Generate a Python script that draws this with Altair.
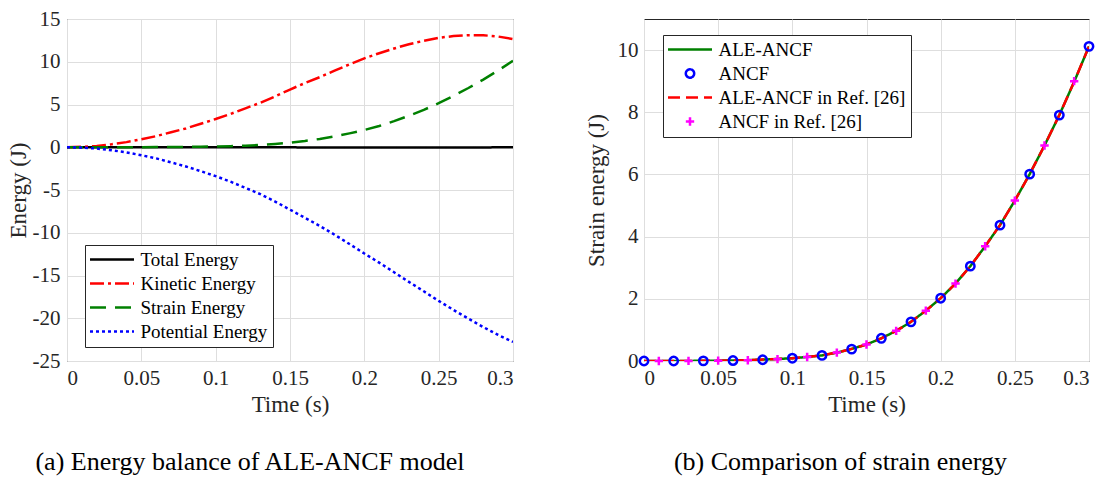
import altair as alt
import pandas as pd

# ---------------- data ----------------
time = [0.00, 0.01, 0.02, 0.03, 0.04, 0.05, 0.06, 0.07, 0.08, 0.09,
        0.10, 0.11, 0.12, 0.13, 0.14, 0.15, 0.16, 0.17, 0.18, 0.19,
        0.20, 0.21, 0.22, 0.23, 0.24, 0.25, 0.26, 0.27, 0.28, 0.29, 0.30]

total_energy = [0.0, 0.0, 0.0, 0.0, 0.0, 0.0, 0.0, 0.0, 0.0, 0.0,
                0.0, 0.0, -0.01, -0.01, -0.01, -0.01, -0.02, -0.02, -0.02, -0.02,
                -0.02, -0.03, -0.03, -0.03, -0.04, -0.04, -0.04, -0.03, -0.02, -0.01, 0.0]

kinetic_energy = [0.0, 0.05, 0.15, 0.35, 0.6, 0.93, 1.3, 1.75, 2.2, 2.75,
                  3.3, 3.9, 4.55, 5.2, 5.95, 6.75, 7.5, 8.2, 8.95, 9.7,
                  10.4, 11.0, 11.55, 12.05, 12.45, 12.8, 13.0, 13.1, 13.1, 12.95, 12.65]

strain_energy = [0.0, 0.0, 0.001, 0.003, 0.006, 0.011, 0.018, 0.028, 0.045, 0.065,
                 0.09, 0.13, 0.18, 0.27, 0.39, 0.53, 0.73, 0.97, 1.26, 1.62,
                 2.02, 2.49, 3.05, 3.69, 4.37, 5.16, 6.01, 6.93, 7.91, 8.98, 10.12]

potential_energy = [0.0, -0.05, -0.15, -0.35, -0.6, -0.93, -1.3, -1.77, -2.25, -2.8,
                    -3.38, -4.03, -4.75, -5.48, -6.35, -7.3, -8.25, -9.2, -10.23, -11.32,
                    -12.43, -13.5, -14.62, -15.75, -16.85, -17.97, -19.03, -20.05, -21.03, -21.95, -22.77]

ref_ale_time = time
ref_ale_strain = [0.0, 0.0, 0.001, 0.003, 0.006, 0.011, 0.018, 0.028, 0.045, 0.065,
                  0.09, 0.13, 0.18, 0.27, 0.39, 0.53, 0.73, 0.97, 1.26, 1.62,
                  2.02, 2.49, 3.05, 3.69, 4.37, 5.16, 6.01, 6.93, 7.91, 8.98, 10.12]

ancf_time = [0.00, 0.02, 0.04, 0.06, 0.08, 0.10, 0.12, 0.14, 0.16, 0.18,
             0.20, 0.22, 0.24, 0.26, 0.28, 0.30]
ancf_strain = [0.0, 0.0, 0.005, 0.015, 0.04, 0.09, 0.18, 0.38, 0.73, 1.26,
               2.02, 3.05, 4.37, 6.01, 7.91, 10.12]

ref_ancf_time = [0.01, 0.03, 0.05, 0.07, 0.09, 0.11, 0.13, 0.15, 0.17, 0.19,
                 0.21, 0.23, 0.25, 0.27, 0.29]
ref_ancf_strain = [0.0, 0.003, 0.01, 0.025, 0.06, 0.13, 0.27, 0.53, 0.97, 1.62,
                   2.49, 3.69, 5.16, 6.93, 9.0]

left_series = ["Total Energy", "Kinetic Energy", "Strain Energy", "Potential Energy"]
right_series = ["ALE-ANCF", "ANCF", "ALE-ANCF in Ref. [26]", "ANCF in Ref. [26]"]
time_ticks = [0, 0.05, 0.1, 0.15, 0.2, 0.25, 0.3]
energy_ticks = [15, 10, 5, 0, -5, -10, -15, -20, -25]
strain_ticks = [0, 2, 4, 6, 8, 10]

# ---------------- tables ----------------
rows = []
for name, vals in zip(left_series, [total_energy, kinetic_energy, strain_energy, potential_energy]):
    for t, v in zip(time, vals):
        rows.append({"series": name, "t": t, "E": v})
df_left = pd.DataFrame(rows)

rows = []
for name, tt, vals in [("ALE-ANCF", time, strain_energy),
                       ("ALE-ANCF in Ref. [26]", ref_ale_time, ref_ale_strain)]:
    for t, v in zip(tt, vals):
        rows.append({"method": name, "t": t, "S": v})
df_right_lines = pd.DataFrame(rows)

rows = []
for name, tt, vals in [("ANCF", ancf_time, ancf_strain),
                       ("ANCF in Ref. [26]", ref_ancf_time, ref_ancf_strain)]:
    for t, v in zip(tt, vals):
        rows.append({"method": name, "t": t, "S": v})
df_right_points = pd.DataFrame(rows)

FONT = "Liberation Serif"
LINE_SYM = "M-4.4,0L4.4,0"
PLUS_SYM = "M-1,0L1,0M0,-1L0,1"
neg_expr = "datum.value < 0 ? '-' + format(-datum.value, '~g') : format(datum.value, '~g')"

def legend(x, y):
    return alt.Legend(title=None, orient="none", legendX=x, legendY=y,
                      symbolType=LINE_SYM, symbolSize=100, symbolStrokeWidth=2.5,
                      symbolOffset=12.5, labelOffset=19,
                      labelFont=FONT, labelFontSize=19, labelColor="black",
                      fillColor="white", strokeColor="#262626", padding=5,
                      rowPadding=4, labelLimit=0, cornerRadius=0)

x_axis = alt.Axis(title="Time (s)", values=time_ticks, format="~g",
                  labelPadding=6, titlePadding=5)

CAP = dict(orient="bottom", font=FONT, fontSize=26, fontWeight="normal", color="black", offset=33)

# ---------------- left chart ----------------
left = alt.Chart(df_left).mark_line(strokeWidth=2.5, clip=True).encode(
    x=alt.X("t:Q", scale=alt.Scale(domain=[0, 0.3], nice=False, zero=False), axis=x_axis),
    y=alt.Y("E:Q", scale=alt.Scale(domain=[-25, 15], nice=False),
            axis=alt.Axis(title="Energy (J)", values=energy_ticks, labelExpr=neg_expr,
                          labelPadding=7, titlePadding=2)),
    color=alt.Color("series:N", scale=alt.Scale(domain=left_series,
                    range=["#000000", "#ff0000", "#008000", "#0000ff"]), legend=legend(18, 226)),
    strokeDash=alt.StrokeDash("series:N", scale=alt.Scale(domain=left_series,
                    range=[[1, 0], [14, 4, 3, 4], [16, 9], [3, 3]]), legend=legend(18, 226)),
).properties(
    width=446, height=342,
    title=alt.TitleParams("(a) Energy balance of ALE-ANCF model", dx=-40, **CAP)
)

# ---------------- right chart ----------------
rcolor = alt.Color("method:N", scale=alt.Scale(domain=right_series,
                   range=["#008000", "#0000ff", "#ff0000", "#ff00ff"]), legend=legend(19, 16))

lines = alt.Chart(df_right_lines).mark_line(strokeWidth=2.5, clip=True).encode(
    x=alt.X("t:Q", scale=alt.Scale(domain=[0, 0.3], nice=False, zero=False), axis=x_axis),
    y=alt.Y("S:Q", scale=alt.Scale(domain=[0, 11], nice=False),
            axis=alt.Axis(title="Strain energy (J)", values=strain_ticks,
                          labelPadding=6, titlePadding=9)),
    color=rcolor,
    strokeDash=alt.StrokeDash("method:N", scale=alt.Scale(domain=right_series,
                   range=[[1, 0], [1, 0], [12, 6], [1, 0]]), legend=legend(19, 16)),
)

points = alt.Chart(df_right_points).mark_point(filled=False, strokeWidth=2.5, opacity=1, clip=False).encode(
    x="t:Q",
    y="S:Q",
    color=rcolor,
    shape=alt.Shape("method:N", scale=alt.Scale(domain=right_series,
                   range=[LINE_SYM, "circle", LINE_SYM, PLUS_SYM]), legend=legend(19, 16)),
    size=alt.Size("method:N", scale=alt.Scale(type="ordinal", domain=right_series,
                   range=[100, 70, 100, 70]), legend=legend(19, 16)),
)

right = alt.layer(lines, points).properties(
    width=445, height=342,
    title=alt.TitleParams("(b) Comparison of strain energy", dx=-26, **CAP)
)

chart = alt.hconcat(left, right, spacing=131, bounds="flush").resolve_scale(
    color="independent", strokeDash="independent", shape="independent", size="independent"
).resolve_legend(
    color="independent", strokeDash="independent", shape="independent", size="independent"
).properties(
    padding={"left": 6, "top": 7, "right": 0, "bottom": 0},
    background="white"
).configure_view(
    stroke="#262626", strokeWidth=1
).configure_axis(
    labelFont=FONT, labelFontSize=21, labelColor="#262626",
    titleFont=FONT, titleFontSize=23, titleFontWeight="normal", titleColor="#262626",
    grid=True, gridColor="#dedede", gridWidth=1, domain=False, ticks=False
)

chart.save("out.html", embed_options={"renderer": "svg", "actions": False})
